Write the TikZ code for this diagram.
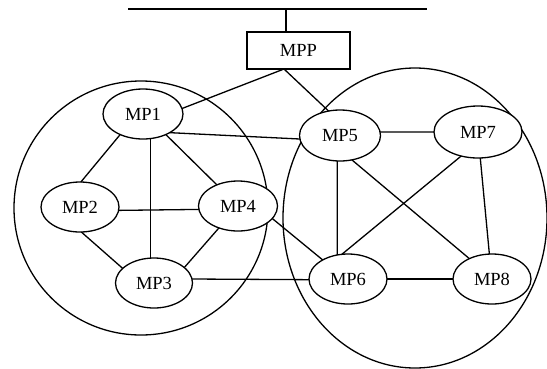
\documentclass[tikz,border=0pt]{standalone}
\usepackage{fontspec}
\setmainfont{Liberation Serif}
\usetikzlibrary{shapes.geometric}
\begin{document}
\begin{tikzpicture}[x=1pt,y=-1pt,line width=1.3pt,
  lbl/.style={font=\fontsize{18.5}{20}\selectfont},
  mp/.style={ellipse,draw,fill=white,inner sep=0pt,outer sep=0pt,
    minimum width=78pt,minimum height=50pt,lbl},
  box/.style={rectangle,draw,fill=white,inner sep=0pt,outer sep=0pt,
    minimum width=103pt,minimum height=37pt,lbl},
  zone/.style={draw,line width=1.3pt}]
\useasboundingbox (0,0) rectangle (547,368);
% clusters
\draw[zone] (141,208) circle[radius=127pt];
\draw[zone] (415,218) ellipse[x radius=132pt,y radius=150pt];
% bus
\coordinate (busL) at (128,9);
\coordinate (busR) at (427,9);
\coordinate (busT) at (286,9);
% nodes
\node[box] (MPP) at (298.5,50.5) {MPP};
\node[mp,minimum width=80pt] (MP1) at (143,114) {MP1};
\node[mp] (MP2) at (80,207) {MP2};
\node[mp,minimum width=77pt] (MP3) at (154,283) {MP3};
\node[mp,minimum width=79pt] (MP4) at (238,206) {MP4};
\node[mp,minimum width=81pt,minimum height=51pt] (MP5) at (340,135.5) {MP5};
\node[mp] (MP6) at (348,279) {MP6};
\node[mp,minimum width=88pt,minimum height=52pt] (MP7) at (478,132) {MP7};
\node[mp] (MP8) at (492,279) {MP8};
\coordinate (mppB) at ([xshift=-14.5pt]MPP.south);
% connectors
\draw (busL) -- (busR);
\draw (busT) -- (busT |- MPP.north);
\draw (mppB) -- (MP1.8);
\draw (mppB) -- (MP5.115);
\draw (MP1.-35) -- (MP5.185);
\draw (MP1.-138) -- (MP2.88);
\draw (MP1.-73) -- (MP1.-73 |- MP3.north);
\draw (MP1.-42) -- (MP4.135);
\draw (MP2.-5) -- (MP4.185);
\draw (MP2.-87) -- (MP3.155);
\draw (MP4.-131) -- (MP3.27);
\draw (MP4.-20) -- (MP6.143);
\draw (MP3.6) -- (MP6.181);
\draw (MP5.5) -- (MP7.180);
\draw (MP5.-96) -- (MP6.114);
\draw (MP5.-64) -- (MP8.138);
\draw (MP7.-125) -- (MP6.104);
\draw (MP7.-85) -- (MP8.96);
\draw (MP6.east) -- (MP8.west);
\end{tikzpicture}
\end{document}
